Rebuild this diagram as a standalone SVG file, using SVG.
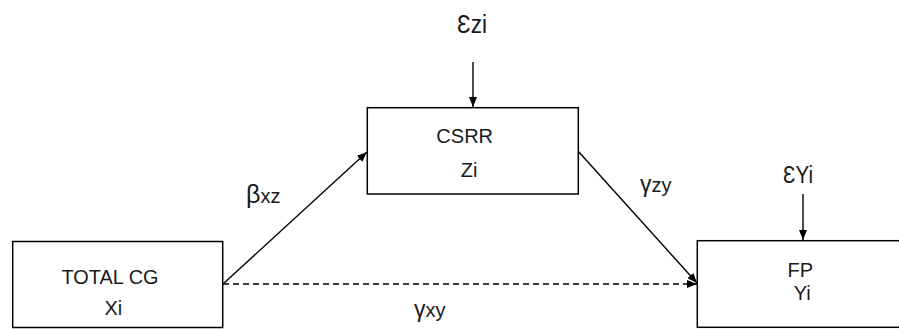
<svg xmlns="http://www.w3.org/2000/svg" width="899" height="329" viewBox="0 0 899 329">
<style>
.box{fill:#fff;stroke:#000;stroke-width:1.5}
.lbl{font-family:"Liberation Sans",Arial,sans-serif;fill:#1a1a1a;font-size:20px;text-anchor:middle}
.edge{stroke:#000;stroke-width:1.4;fill:none}
.dash{stroke-dasharray:6 4}
.gk{font-family:"Liberation Sans","DejaVu Sans",sans-serif;fill:#1a1a1a}
</style>
<defs>
<marker id="ah" markerUnits="userSpaceOnUse" markerWidth="10" markerHeight="8" refX="10" refY="4" orient="auto">
<path d="M0,0 L10,4 L0,8 z" fill="#000"/>
</marker>
</defs>
<rect width="899" height="329" fill="#fff"/>
<g id="connectors">
<line class="edge" x1="223" y1="284" x2="367" y2="152" marker-end="url(#ah)"/>
<line class="edge" x1="578" y1="151" x2="697" y2="283" marker-end="url(#ah)"/>
<line class="edge dash" x1="223" y1="284" x2="697" y2="284" marker-end="url(#ah)"/>
<line class="edge" x1="473" y1="62" x2="473" y2="107" marker-end="url(#ah)"/>
<line class="edge" x1="803" y1="194" x2="803" y2="240" marker-end="url(#ah)"/>
</g>
<g id="node-totalcg">
<rect class="box" x="12.7" y="241.5" width="210" height="86"/>
<text class="lbl" x="110" y="284" textLength="97" lengthAdjust="spacingAndGlyphs">TOTAL CG</text>
<text class="lbl" x="113.3" y="315">Xi</text>
</g>
<g id="node-csrr">
<rect class="box" x="367.3" y="107.7" width="211" height="86.3"/>
<text class="lbl" x="464.7" y="143.3">CSRR</text>
<text class="lbl" x="469.2" y="176.7">Zi</text>
</g>
<g id="node-fp">
<rect class="box" x="697.3" y="240.7" width="210" height="86.6"/>
<text class="lbl" x="800.4" y="276.7">FP</text>
<text class="lbl" x="802.2" y="300">Yi</text>
</g>
<g id="error-z">
<text class="gk" x="457" y="33" font-size="25" textLength="30" lengthAdjust="spacingAndGlyphs">Ɛzi</text>
</g>
<g id="error-y">
<text class="gk" x="783" y="182.7" font-size="23" textLength="30" lengthAdjust="spacingAndGlyphs">ƐYi</text>
</g>
<g id="labels">
<text class="gk" x="246" y="203"><tspan font-size="25">β</tspan><tspan font-size="20">xz</tspan></text>
<text class="gk" x="640" y="192"><tspan font-size="23">γ</tspan><tspan font-size="20">zy</tspan></text>
<text class="gk" x="414" y="317"><tspan font-size="23">γ</tspan><tspan font-size="20">xy</tspan></text>
</g>
</svg>
